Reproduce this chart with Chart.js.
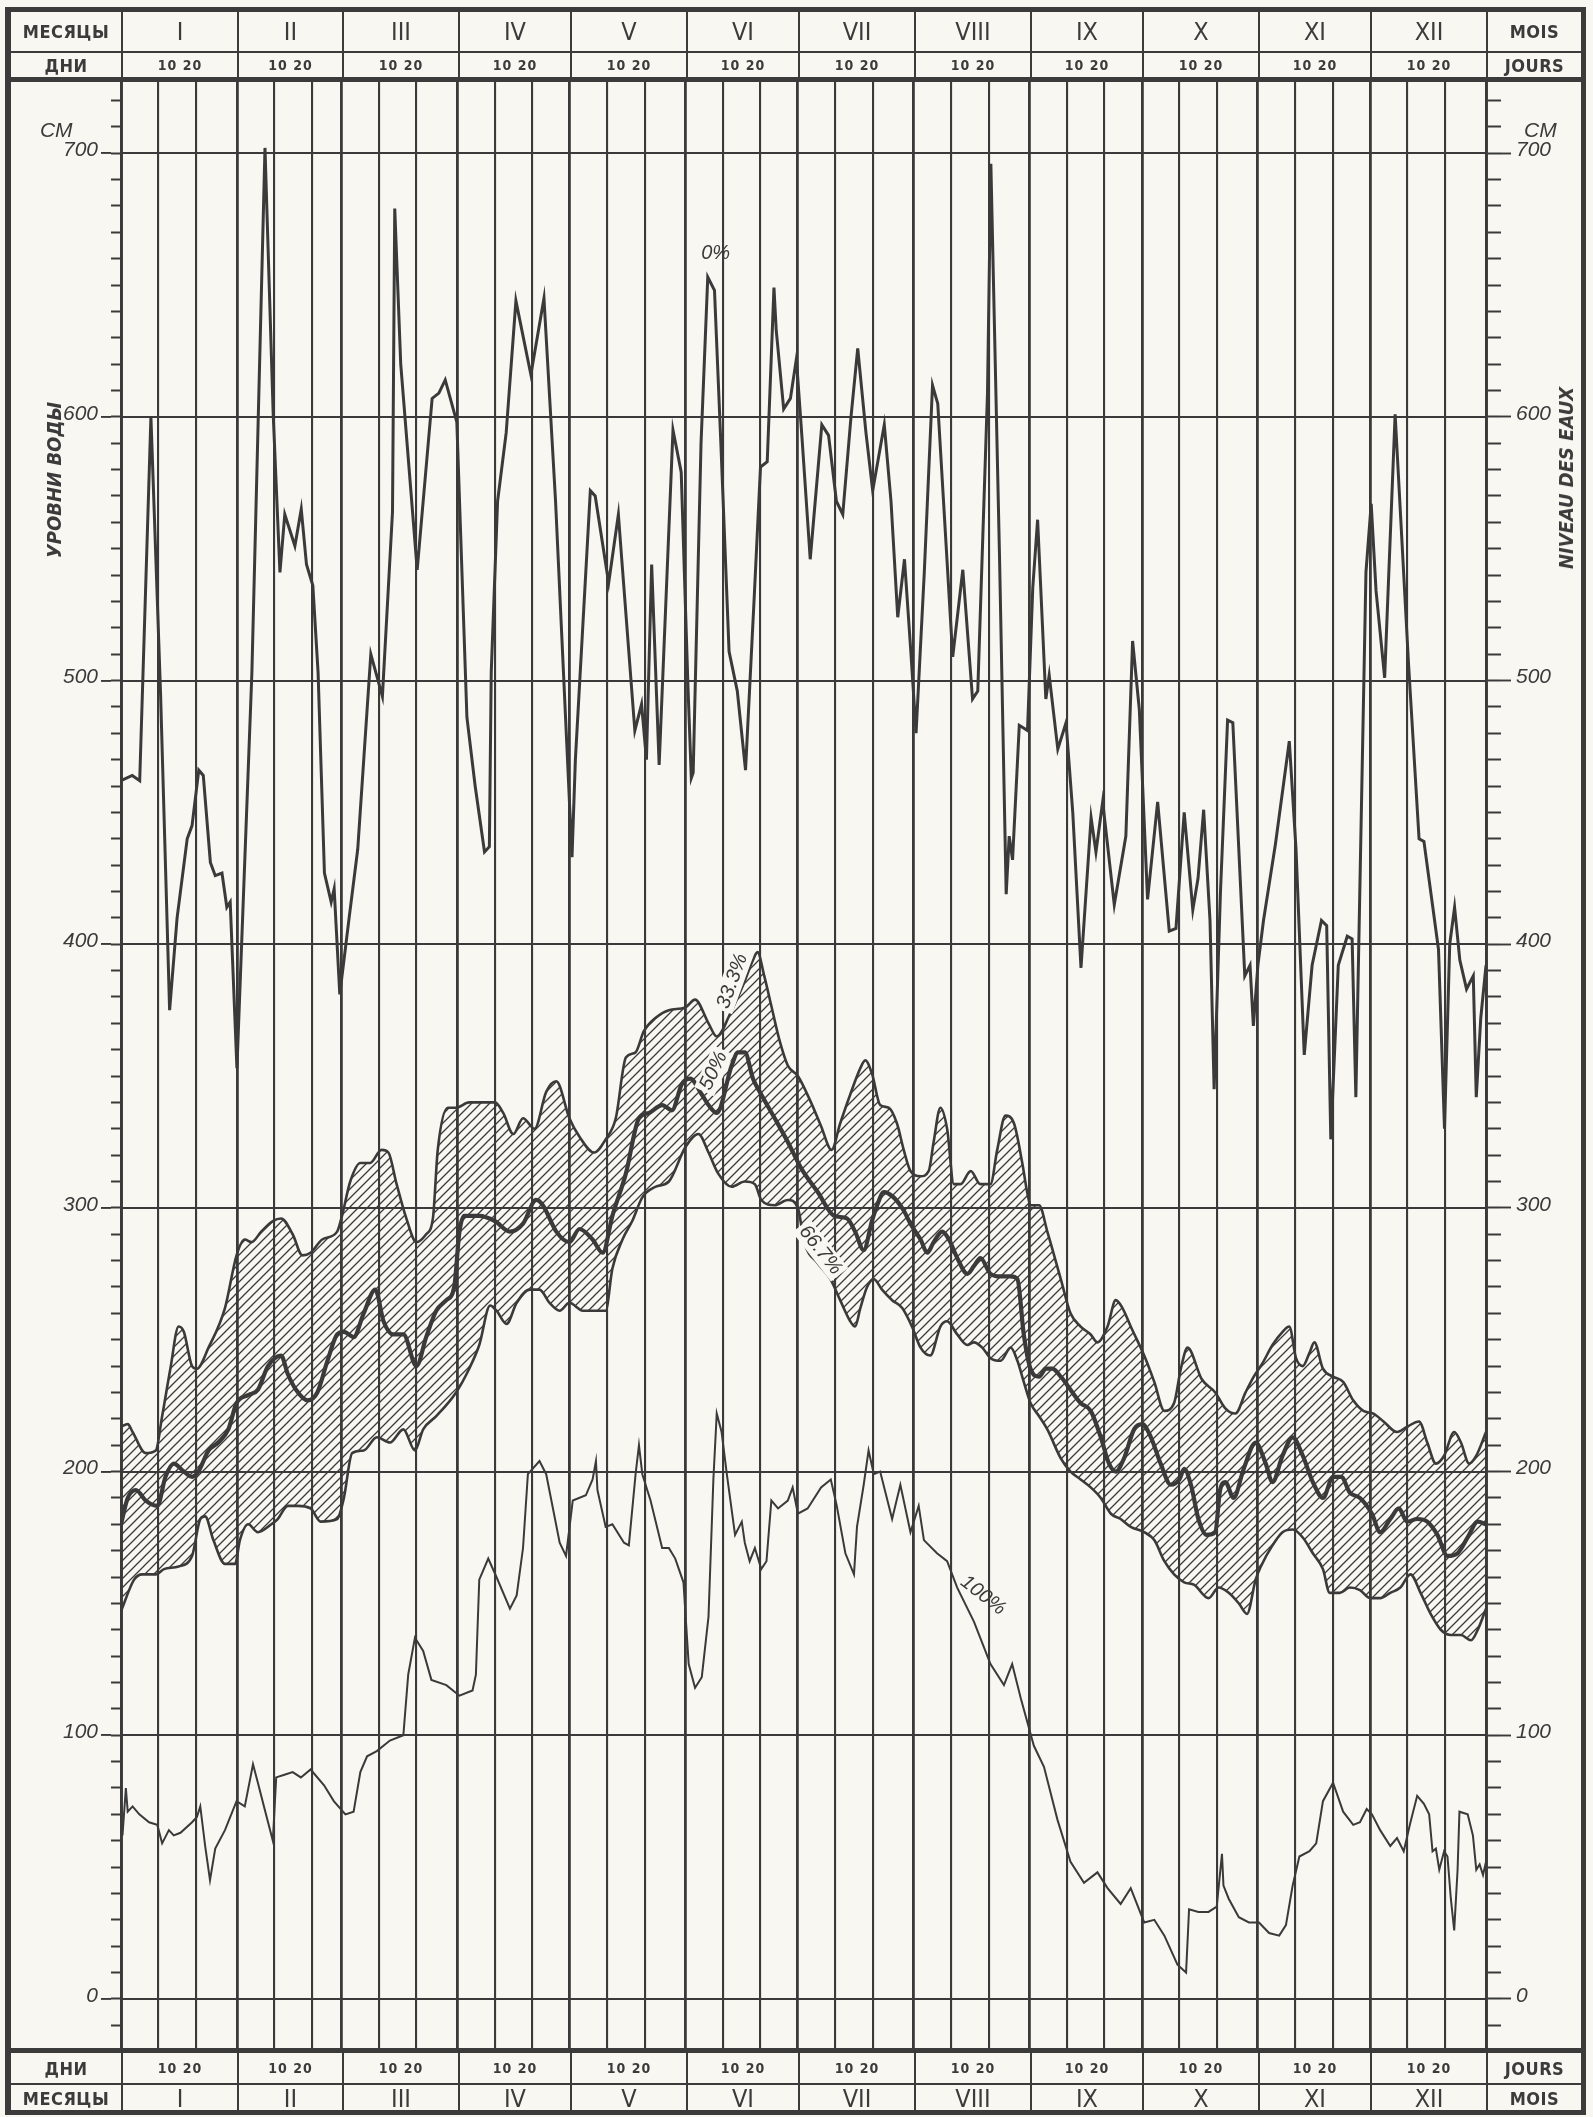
<!DOCTYPE html>
<html lang="ru">
<head>
<meta charset="utf-8">
<title>Уровни воды</title>
<script src="https://cdn.jsdelivr.net/npm/chart.js@4.4.1/dist/chart.umd.min.js"></script>
<style>
  html, body { margin: 0; padding: 0; background: #f8f7f1; }
  body { width: 1593px; height: 2117px; position: relative; overflow: hidden; color: #3b3b3b;
         font-family: "DejaVu Sans Condensed", "DejaVu Sans", sans-serif; }
  #chart { position: absolute; left: 0; top: 0; }
  .frame { position: absolute; left: 5px; top: 7px; width: 1581px; height: 2108px;
           border: 5px solid #3b3b3b; border-left-width: 6px; box-sizing: border-box; pointer-events: none; }
  .row { position: absolute; left: 0; width: 1593px; box-sizing: border-box; }
  .cell { position: absolute; top: 0; height: 100%; box-sizing: border-box; border-left: 2px solid #3b3b3b;
          display: flex; align-items: center; justify-content: center; white-space: nowrap; }
  .cell.first { border-left: none; }
  .months .cell { font-size: 25px; }
  .days .cell { font-size: 14px; font-weight: bold; letter-spacing: 1px; }
  .cell.side { font-size: 18px; font-weight: bold; letter-spacing: 0.5px; }
  .rule { position: absolute; left: 11px; width: 1570px; background: #3b3b3b; }
  .vtitle { position: absolute; transform: translate(-50%, -50%) rotate(-90deg); white-space: nowrap;
            font: italic bold 20px "DejaVu Sans Condensed", "DejaVu Sans", sans-serif; }
  .unit { position: absolute; font: italic 21px "Liberation Sans", sans-serif; }
</style>
</head>
<body>
<canvas id="chart" width="1593" height="2117"></canvas>
<div class="vtitle" style="left:54px; top:480px;">УРОВНИ ВОДЫ</div>
<div class="vtitle" style="left:1566px; top:478px;">NIVEAU DES EAUX</div>
<div class="unit" style="left:40px; top:118px;">СМ</div>
<div class="unit" style="left:1524px; top:118px;">CM</div>
<div class="frame"></div>
<script>
const ink = '#3a3a3a';
const paper = '#f8f7f1';

const monthNames = ['I', 'II', 'III', 'IV', 'V', 'VI', 'VII', 'VIII', 'IX', 'X', 'XI', 'XII'];
const monthStartDays = [0, 31, 59, 90, 120, 151, 181, 212, 243, 273, 304, 334, 365];
const dayTickText = '10  20';

// [day of year, level in cm]
const maxCurve = [[0,462],[3,464],[5,462],[8,600],[9.7,531],[10.6,494],[13,375],[15,410],[17.7,440],[19,445],[20.8,466],[22,464],[23.9,431],[25.2,426],[27,427],[28.3,414],[29.2,416],[31,353],[35,503],[38.5,702],[40.7,601],[42.5,541],[43.8,563],[46.5,551],[48.2,565],[49.6,544],[51.3,536],[52.7,503],[54.4,427],[56.2,416],[57,421],[58.5,381],[61,410],[63.3,436],[66.8,510],[69.9,494],[72.6,564],[73.2,679],[74.8,620],[79.2,542],[83.2,607],[85,609],[86.7,614],[89.8,598],[92.5,486],[94.7,460],[97.2,435],[98.5,437],[99,503],[100.7,568],[103,594],[105.6,644],[109.6,616],[113.1,645],[116.2,568],[120.6,433],[121.5,470],[125.5,572],[126.8,570],[130.4,537],[133,563],[133.9,546],[137.4,481],[139.2,491],[140.5,470],[141.9,544],[143.9,468],[147.6,595],[149.8,579],[151.6,498],[152.5,463],[153,465],[155.1,590],[156.9,653],[158.7,648],[160.4,590],[162.6,511],[164.8,496],[167,466],[169.3,531],[171,581],[172.8,583],[174.6,649],[175.2,633],[177.2,603],[179,607],[180.6,622],[182.1,592],[184.3,546],[187.4,597],[189.2,593],[191.3,568],[193,563],[195.2,600],[197,626],[199.2,594],[201,572],[204.1,597],[205.9,568],[207.7,524],[209.5,546],[211.2,511],[212.6,480],[214.8,541],[217,612],[218.4,605],[222.4,509],[225.1,542],[227.7,493],[229.1,496],[231.7,609],[232.6,696],[234.9,548],[236.7,419],[237.5,441],[238.4,432],[240.2,483],[242.4,481],[243.8,535],[245.1,561],[247.3,493],[248.2,502],[250.5,474],[252.7,484],[254.5,450],[256.7,391],[259.4,448],[260.7,435],[262.5,454],[265.6,415],[268.7,441],[270.5,515],[272.3,489],[274.5,417],[277.2,454],[280.3,405],[282.1,406],[284.3,450],[286.6,413],[288,425],[289.5,451],[291.2,409],[292.3,345],[294,420],[295.9,485],[297.3,484],[300.5,388],[301.9,392],[302.8,369],[304,392],[305.5,409],[308.7,438],[312.4,477],[314.2,436],[316.4,358],[318.5,392],[321,409],[322.4,407],[323.5,326],[325.5,392],[327.9,403],[329.2,402],[330.2,342],[332.9,541],[334.3,567],[335.6,534],[337.9,501],[340.7,601],[344.3,506],[347.1,440],[348.4,439],[352.3,398],[353.9,330],[355.3,400],[356.6,414],[358,394],[359.8,383],[361.6,388],[362.4,342],[363.6,372],[365,392]];

const upperCurve = [[0,217],[1.8,218],[3.1,215],[6.6,207],[9.3,208],[11,221],[13.2,239],[15.4,255],[16.8,253],[19,240],[20.3,239],[23.4,247],[27.8,262],[30.9,282],[33.1,288],[34.9,287],[37.5,291],[40.6,295],[42.8,296],[45.9,290],[48.5,282],[50.7,283],[53.8,288],[57.8,291],[59.1,297],[61.3,310],[64,317],[66.6,317],[69.7,322],[71.5,321],[73.7,309],[76.3,296],[79,287],[81.6,290],[83.4,296],[84.7,322],[87.4,338],[89.6,338],[93.1,340],[96.9,340],[100,340],[102.2,336],[104.9,328],[107.5,334],[110.6,330],[113.7,344],[116.4,348],[119.9,334],[122.6,327],[126.5,321],[129.6,326],[132.3,334],[135,357],[137.6,359],[139.8,367],[142.9,372],[146.5,375],[150.9,376],[153.5,379],[157.1,370],[159.3,365],[163,374],[166.5,385],[169,394],[170.2,397],[172,388],[174,376],[176,364],[178.3,354],[181,350],[184.5,340],[187.2,331],[190,322],[192.3,332],[195,343],[197.7,353],[199,356],[200.8,351],[203,339],[205.3,338],[207.5,332],[209.3,322],[211.1,314],[213.8,312],[216,314],[217.3,325],[219.1,338],[220.9,330],[222.7,309],[224.5,309],[227.2,314],[229.8,309],[232.5,309],[234.3,322],[236.5,335],[238.8,332],[241,317],[242.3,306],[243.2,301],[245.5,301],[247.7,291],[251.3,273],[253.9,260],[256.6,255],[259.3,252],[261.1,249],[263.8,255],[266,265],[267.8,262],[270,255],[273.6,244],[276.3,234],[279,223],[281.6,226],[283.4,239],[285.2,247],[289,235],[292.6,230],[295.3,224],[298,222],[300.7,230],[302.9,236],[305.2,241],[307.9,248],[310.6,253],[312.4,255],[314.2,243],[316,240],[317.8,245],[319.1,249],[321.4,239],[324.1,236],[326.8,234],[329.5,227],[332.2,223],[334.9,222],[337.6,219],[341.2,215],[343.9,217],[347.1,219],[349.3,211],[351.6,203],[353.8,206],[356.5,215],[358.3,211],[360.5,203],[362.4,206],[365,215]];

const medianCurve = [[0,180],[1.8,190],[4,193],[6.6,189],[9.7,187],[11.9,198],[14.1,203],[16.8,200],[19,198],[20.7,200],[23.4,208],[26,211],[28.7,216],[30.9,226],[34,229],[36.6,231],[39.3,240],[42.8,244],[44.6,237],[46.8,231],[49.9,227],[52.5,230],[55.2,242],[57.8,252],[59.6,253],[62.2,251],[64.9,260],[68,269],[70.2,257],[72.8,252],[75.5,252],[79,240],[81.6,251],[84.3,261],[87,265],[89.1,270],[90.5,291],[91.8,297],[95.8,297],[100,295],[104,291],[107.5,294],[111,303],[112.8,301],[116.4,291],[119.9,287],[122.6,292],[126.1,288],[128.8,283],[131.4,297],[135,313],[138.5,334],[141.2,336],[144.7,339],[147.3,337],[150,347],[152.2,349],[155.3,343],[157.1,339],[159.3,336],[163.3,354],[165,359],[166.8,359],[169,349],[171.2,343],[174.8,334],[178.3,325],[181.9,315],[186.3,306],[190.7,297],[194.1,296],[196.3,291],[198.6,284],[200.8,295],[202.2,301],[204,306],[206.6,304],[209.3,299],[211.1,294],[213.8,288],[215.6,283],[217.3,287],[219.6,291],[221.4,288],[223.6,281],[226.3,275],[228.1,278],[229.8,281],[232.5,275],[235.2,274],[237.9,274],[239.7,273],[241.4,252],[243.2,239],[245.5,236],[247.3,239],[249,239],[251.3,236],[253.9,231],[256.6,226],[259.3,223],[262,213],[264.2,203],[266,200],[268.2,205],[270.9,216],[273.1,218],[275.4,213],[278,203],[280.7,195],[283,197],[284.3,201],[286.1,195],[288.1,182],[290.3,176],[292.6,177],[293.9,193],[295.3,196],[297.5,190],[300.2,201],[303.4,211],[306.1,203],[307.9,196],[310.6,206],[313.3,213],[316,206],[318.7,196],[321.4,190],[324.1,198],[326.3,198],[328.6,192],[331.3,190],[334.5,184],[336.7,177],[339.4,182],[341.7,186],[343.9,181],[346.6,182],[349.3,181],[352,176],[354.7,168],[357.4,169],[360.1,175],[362.8,181],[365,180]];

const lowerCurve = [[0,147],[3.5,159],[5.7,161],[9.3,161],[11.5,163],[15.4,164],[19,168],[21.2,182],[22.5,183],[24.7,174],[27.8,165],[30.5,165],[31.8,174],[34,180],[36.6,177],[40.2,180],[41.9,182],[44.6,187],[47.2,187],[50.7,186],[53.4,181],[57.8,182],[59.6,190],[61.8,207],[64.9,208],[68.4,213],[71.9,211],[75.5,216],[78.6,208],[80.8,216],[84.3,221],[89.6,230],[93.1,239],[95.8,248],[98.7,263],[100.4,261],[103.1,256],[105.8,264],[109.3,269],[111.9,269],[114.6,264],[117.3,261],[119.9,264],[123.5,261],[127,261],[129.6,261],[131.4,277],[134.1,288],[136.7,295],[139.4,304],[142.9,308],[146.5,310],[150.9,323],[154.4,328],[157.1,321],[159.7,313],[163.3,308],[166.8,310],[169.5,309],[171.2,303],[174.8,301],[178.3,303],[181,300],[182.7,287],[186.3,279],[189.7,273],[192.3,265],[195,257],[196.3,255],[197.7,262],[199.5,270],[201.3,273],[203.5,269],[206.2,265],[208.9,262],[211.5,255],[213.8,247],[216.4,244],[219.1,255],[220.9,257],[223.6,252],[226.3,248],[228.1,249],[230.3,247],[232.5,243],[235.2,242],[237.9,247],[239.7,242],[241.4,234],[243.2,226],[245.5,221],[247.7,216],[251.3,205],[253.9,200],[256.6,197],[259.3,194],[262,190],[264.7,184],[267.3,182],[270,179],[273.6,177],[276.3,174],[279,166],[281.6,161],[284.3,158],[287,157],[290.8,152],[293.5,156],[296.2,154],[298.9,150],[301.1,146],[303.4,159],[304.8,164],[307.9,172],[310.6,177],[313.3,178],[316,175],[318.7,169],[321.4,163],[323.2,154],[325.9,154],[328.6,156],[331.3,155],[334,152],[336.7,152],[339.4,154],[342.1,156],[344.8,161],[347.5,154],[350.2,146],[352.9,140],[355.6,138],[358.3,138],[361,136],[362.8,140],[365,148]];

const minCurve = [[0.4,62],[1.3,80],[1.8,71],[3.1,73],[4.9,70],[7.5,67],[9.7,66],[11,59],[12.8,64],[14.1,62],[15.9,63],[19,67],[20.3,69],[21.2,73],[22.5,58],[23.8,45],[25.2,57],[27.8,64],[30.9,75],[33.1,73],[35.3,89],[36.6,82],[38.4,72],[40.6,60],[41.5,84],[43.7,85],[45.9,86],[48.1,84],[50.7,87],[54.3,81],[56.9,75],[60,70],[62.2,71],[64,86],[65.8,92],[68.4,94],[71.9,98],[75.5,100],[76.8,123],[78.6,137],[80.8,132],[83,121],[87,119],[90.5,115],[94,117],[94.9,123],[95.8,159],[98.2,167],[100.4,160],[104,148],[105.8,153],[107.5,171],[108.8,199],[111.9,204],[113.7,199],[117.3,173],[119,168],[120.8,189],[124.3,191],[126.1,197],[127,204],[127.4,193],[129.6,179],[131.4,180],[134.5,173],[135.8,172],[137.6,199],[138.5,210],[139.4,199],[141.6,189],[144.7,171],[146.5,171],[148.2,167],[150.4,158],[151.8,127],[153.5,118],[155.3,122],[157.1,145],[158.4,197],[159.3,222],[160.6,215],[162,199],[164.2,176],[166,181],[166.8,173],[168.1,166],[169.5,171],[171.2,163],[172.6,166],[173.9,189],[175.7,186],[178.3,189],[179.6,194],[181,184],[183.6,186],[187.2,194],[189.8,197],[191.4,187],[193.7,169],[196,161],[196.8,179],[198.6,195],[199.9,208],[201.3,199],[203,200],[206.2,182],[208.4,195],[211.1,177],[213.3,187],[214.7,174],[218.2,169],[220.9,166],[223.6,156],[228.1,143],[232.5,127],[236.1,119],[238.3,127],[240.6,114],[244.1,96],[246.8,88],[250.4,68],[253.9,52],[257.5,44],[261.1,48],[263.8,42],[267.3,36],[270,42],[273.6,29],[276.3,30],[279,24],[282.5,13],[284.8,10],[285.6,34],[288.1,33],[290.8,33],[293,35],[294.4,55],[294.8,43],[296.2,38],[298.9,31],[301.6,29],[304.3,29],[307,25],[309.7,24],[311.5,28],[313.3,43],[315.1,54],[317.8,56],[319.6,59],[321.4,75],[324.1,82],[326.8,71],[329.5,66],[331.3,67],[333.1,72],[334.5,70],[336.7,64],[339.4,58],[341.2,61],[343,56],[344.8,67],[346.6,77],[348.4,74],[349.8,70],[350.7,56],[351.6,57],[352.5,49],[353.8,56],[354.7,54],[355.6,38],[356.5,26],[357.4,49],[357.9,71],[360.1,70],[361.5,62],[362.4,49],[363.3,51],[364.2,47],[365,52]];

// curve captions: text, day, level, angle (deg), masked
const curveNotes = [
  ['0%', 159, 662, 0, false],
  ['33.3%', 163.5, 386, -70, true],
  ['50%', 158.5, 352, -65, true],
  ['66.7%', 187, 284, 52, true],
  ['100%', 230.5, 153, 38, false]
];

const toPoints = arr => arr.map(p => ({ x: p[0], y: p[1] }));

const dayLines = [];
monthStartDays.slice(0, 12).forEach(d => dayLines.push(d, d + 10, d + 20));
dayLines.push(365);

const canvas = document.getElementById('chart');
const ctx = canvas.getContext('2d');

// diagonal hatch tile
const tile = document.createElement('canvas');
tile.width = tile.height = 9;
const tc = tile.getContext('2d');
tc.strokeStyle = ink;
tc.lineWidth = 1.3;
tc.beginPath();
tc.moveTo(0, 9); tc.lineTo(9, 0);
tc.moveTo(-2, 2); tc.lineTo(2, -2);
tc.moveTo(7, 11); tc.lineTo(11, 7);
tc.stroke();
const hatch = ctx.createPattern(tile, 'repeat');

const curveLabels = {
  id: 'curveLabels',
  afterDatasetsDraw(chart) {
    const { ctx, scales: { x, y } } = chart;
    ctx.save();
    ctx.font = 'italic 20px "Liberation Sans"';
    ctx.textAlign = 'center';
    ctx.textBaseline = 'middle';
    curveNotes.forEach(([text, day, level, angle, masked]) => {
      ctx.save();
      ctx.translate(x.getPixelForValue(day), y.getPixelForValue(level));
      ctx.rotate(angle * Math.PI / 180);
      if (masked) {
        const w = ctx.measureText(text).width + 6;
        ctx.fillStyle = paper;
        ctx.fillRect(-w / 2, -11, w, 22);
      }
      ctx.fillStyle = ink;
      ctx.fillText(text, 0, 0);
      ctx.restore();
    });
    ctx.restore();
  }
};

const isHundred = c => c.tick && c.tick.value % 100 === 0;

const levelTicks = {
  stepSize: 10,
  includeBounds: false,
  autoSkip: false,
  color: ink,
  font: { family: 'Liberation Sans', size: 21, style: 'italic' },
  labelOffset: -3,
  callback: v => (v % 100 === 0 ? String(v) : '')
};

// short 10 cm ticks sit next to the plot, the 100 cm ticks reach further out
const minorLevelAxis = (position, width, len) => ({
  type: 'linear',
  position,
  display: true,
  weight: 0,
  min: -19,
  max: 727,
  afterFit: scale => { scale.width = width; },
  ticks: { stepSize: 10, includeBounds: false, autoSkip: false, display: false },
  border: { display: true, color: ink, width: 2.8 },
  grid: { drawOnChartArea: false, tickColor: ink, tickLength: len, tickWidth: 2 }
});

const chart = new Chart(ctx, {
  type: 'line',
  data: {
    datasets: [
      { label: '0%', data: toPoints(maxCurve), borderColor: ink, borderWidth: 3, tension: 0, pointRadius: 0, fill: false },
      { label: '33.3%', data: toPoints(upperCurve), borderColor: ink, borderWidth: 2.6, cubicInterpolationMode: 'monotone', pointRadius: 0, fill: false },
      { label: '50%', data: toPoints(medianCurve), borderColor: ink, borderWidth: 4.2, cubicInterpolationMode: 'monotone', pointRadius: 0, fill: false },
      { label: '66.7%', data: toPoints(lowerCurve), borderColor: ink, borderWidth: 2.6, cubicInterpolationMode: 'monotone', pointRadius: 0, fill: 1, backgroundColor: hatch },
      { label: '100%', data: toPoints(minCurve), borderColor: ink, borderWidth: 2, tension: 0, pointRadius: 0, fill: false }
    ]
  },
  options: {
    responsive: false,
    animation: false,
    devicePixelRatio: 1,
    layout: { padding: { top: 82, bottom: 68, left: 0, right: 0 } },
    plugins: { legend: { display: false }, tooltip: { enabled: false } },
    scales: {
      x: {
        type: 'linear',
        min: 0,
        max: 365,
        afterBuildTicks: scale => { scale.ticks = dayLines.map(v => ({ value: v })); },
        afterFit: scale => { scale.height = 0; },
        ticks: { display: false },
        border: { display: false },
        grid: {
          drawTicks: false,
          color: ink,
          lineWidth: c => (c.tick && monthStartDays.includes(c.tick.value) ? 2.8 : 2.1)
        }
      },
      yMinor: minorLevelAxis('left', 10, 10),
      y: {
        type: 'linear',
        position: 'left',
        weight: 1,
        min: -19,
        max: 727,
        afterFit: scale => { scale.width = 111; },
        ticks: { ...levelTicks, padding: 3 },
        border: { display: false },
        grid: {
          color: c => (isHundred(c) ? ink : 'rgba(0,0,0,0)'),
          tickColor: c => (isHundred(c) ? ink : 'rgba(0,0,0,0)'),
          tickLength: 10,
          lineWidth: 1.9,
          tickWidth: 1.9
        }
      },
      y2Minor: minorLevelAxis('right', 15, 15),
      y2: {
        type: 'linear',
        position: 'right',
        weight: 1,
        display: true,
        min: -19,
        max: 727,
        afterFit: scale => { scale.width = 92; },
        ticks: { ...levelTicks, padding: 5 },
        border: { display: false },
        grid: {
          drawOnChartArea: false,
          tickColor: c => (isHundred(c) ? ink : 'rgba(0,0,0,0)'),
          tickLength: 10,
          tickWidth: 1.9
        }
      }
    }
  },
  plugins: [curveLabels]
});

// header and footer bands, aligned with the day scale
const frameLeft = 11;
const frameRight = 1581;

function addRow(top, height, kind, leftText, cellText, rightText) {
  const sx = chart.scales.x;
  const row = document.createElement('div');
  row.className = 'row ' + kind;
  row.style.top = top + 'px';
  row.style.height = height + 'px';
  const edges = [frameLeft, ...monthStartDays.map(d => Math.round(sx.getPixelForValue(d))), frameRight];
  const texts = [leftText, ...monthNames.map(cellText), rightText];
  texts.forEach((t, i) => {
    const c = document.createElement('div');
    c.className = 'cell' + (i === 0 ? ' first side' : '') + (i === texts.length - 1 ? ' side' : '');
    c.style.left = edges[i] + 'px';
    c.style.width = (edges[i + 1] - edges[i]) + 'px';
    c.textContent = t;
    row.appendChild(c);
  });
  document.body.appendChild(row);
}

function addRule(top, height) {
  const r = document.createElement('div');
  r.className = 'rule';
  r.style.top = top + 'px';
  r.style.height = height + 'px';
  document.body.appendChild(r);
}

addRow(12, 39, 'months', 'МЕСЯЦЫ', m => m, 'MOIS');
addRule(51, 2);
addRow(53, 24, 'days', 'ДНИ', () => dayTickText, 'JOURS');
addRule(77, 5);

addRule(2048, 5);
addRow(2053, 30, 'days', 'ДНИ', () => dayTickText, 'JOURS');
addRule(2083, 2);
addRow(2085, 27, 'months', 'МЕСЯЦЫ', m => m, 'MOIS');
</script>
</body>
</html>
